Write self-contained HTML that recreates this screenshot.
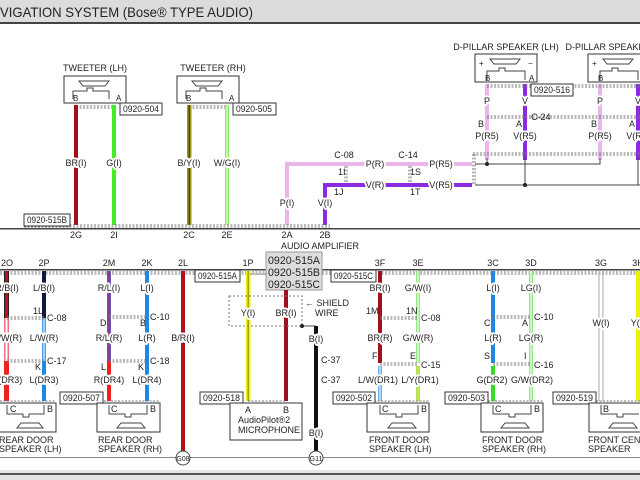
<!DOCTYPE html>
<html><head><meta charset="utf-8"><style>
html,body{margin:0;padding:0;background:#fff}
svg{display:block}
text{font-family:"Liberation Sans",sans-serif;font-size:9px;fill:#222}
.l{paint-order:stroke;stroke:#fff;stroke-width:4px;stroke-linejoin:round}
.box{fill:#fff;stroke:#333;stroke-width:1}
.dash{stroke:#777;stroke-width:1;stroke-dasharray:2 1.5;fill:none}
.thin{stroke:#444;stroke-width:1;fill:none}
</style></head><body>
<svg width="640" height="480" viewBox="0 0 640 480" xmlns="http://www.w3.org/2000/svg">
<rect x="0" y="0" width="640" height="22" fill="#dcdcdc"/>
<text x="0" y="17" style="font-size:14px" textLength="253" lengthAdjust="spacingAndGlyphs" fill="#222">VIGATION SYSTEM (Bose® TYPE AUDIO)</text>
<rect x="0" y="22" width="640" height="2" fill="#444"/>

<rect x="0" y="228" width="640" height="1.5" fill="#444"/>

<text x="95" y="71" text-anchor="middle">TWEETER (LH)</text>
<rect class="box" x="64" y="76" width="62" height="27" stroke-width="1.5"/>
<text x="213" y="71" text-anchor="middle">TWEETER (RH)</text>
<rect class="box" x="177" y="76" width="62" height="27" stroke-width="1.5"/>
<g class="thin">
<path d="M79 81h30l-4 5h-22z"/><path d="M73 99v-8h14v-3h6v3h16v8"/>
<path d="M192 81h30l-4 5h-22z"/><path d="M186 99v-8h14v-3h6v3h16v8"/>
</g>
<text x="73" y="101" style="font-size:8px">B</text><text x="116" y="101" style="font-size:8px">A</text>
<text x="186" y="101" style="font-size:8px">B</text><text x="229" y="101" style="font-size:8px">A</text>
<path class="dash" d="M76 106H114M76 108H114M189 106H227M189 108H227"/>
<rect class="box" x="120" y="103" width="42" height="12"/><text x="123" y="112" textLength="36" lengthAdjust="spacingAndGlyphs">0920-504</text>
<rect class="box" x="233" y="103" width="43" height="12"/><text x="236" y="112" textLength="36" lengthAdjust="spacingAndGlyphs">0920-505</text>

<rect x="74" y="105" width="4" height="120" fill="#a0101a"/>
<rect x="112" y="105" width="4" height="120" fill="#44ee22"/>
<rect x="187" y="105" width="4.5" height="120" fill="#a09a10"/><rect x="188.5" y="105" width="1.5" height="120" fill="#443"/>
<rect x="225" y="105" width="4" height="120" fill="#88ee66"/><rect x="226.5" y="105" width="1" height="120" fill="#fff"/>
<text class="l" x="76" y="166" text-anchor="middle">BR(I)</text>
<text class="l" x="114" y="166" text-anchor="middle">G(I)</text>
<text class="l" x="189" y="166" text-anchor="middle">B/Y(I)</text>
<text class="l" x="227" y="166" text-anchor="middle">W/G(I)</text>

<path d="M287 225V164H472" stroke="#eab6ea" stroke-width="4" fill="none"/>
<path d="M325 225V185H472" stroke="#8a2be2" stroke-width="4" fill="none"/>
<text class="l" x="287" y="206" text-anchor="middle">P(I)</text>
<text class="l" x="325" y="206" text-anchor="middle">V(I)</text>
<text class="l" x="375" y="167" text-anchor="middle">P(R)</text>
<text class="l" x="375" y="188" text-anchor="middle">V(R)</text>
<text class="l" x="441" y="167" text-anchor="middle">P(R5)</text>
<text class="l" x="441" y="188" text-anchor="middle">V(R5)</text>
<text x="344" y="158" text-anchor="middle">C-08</text><text x="408" y="158" text-anchor="middle">C-14</text>
<text x="338" y="175">1I</text><text x="334" y="195">1J</text>
<text x="410" y="175">1S</text><text x="410" y="195">1T</text>
<path class="dash" d="M345 166V183M347 166V183M409 166V183M411 166V183M473 154V185M475 154V185"/>

<path class="dash" d="M24 225H330M24 227H330"/>
<rect class="box" x="24" y="214" width="46" height="12"/><text x="27" y="223" textLength="40" lengthAdjust="spacingAndGlyphs">0920-515B</text>
<text x="76" y="238" text-anchor="middle">2G</text><text x="114" y="238" text-anchor="middle">2I</text>
<text x="189" y="238" text-anchor="middle">2C</text><text x="227" y="238" text-anchor="middle">2E</text>
<text x="287" y="238" text-anchor="middle">2A</text><text x="325" y="238" text-anchor="middle">2B</text>

<text x="506" y="50" text-anchor="middle">D-PILLAR SPEAKER (LH)</text>
<rect class="box" x="475" y="54" width="62" height="28" stroke-width="1.5"/>
<text x="619" y="50" text-anchor="middle">D-PILLAR SPEAKER (RH)</text>
<rect class="box" x="588" y="54" width="62" height="28" stroke-width="1.5"/>
<g class="thin">
<path d="M490 59h30l-4 5h-22z"/><path d="M487 80v-9h12v-3h6v3h20v9"/>
<path d="M603 59h30l-4 5h-22z"/><path d="M600 80v-9h12v-3h6v3h20v9"/>
</g>
<text x="479" y="66" style="font-size:8px">+</text><text x="528" y="66" style="font-size:8px">−</text>
<text x="592" y="66" style="font-size:8px">+</text>
<text x="485" y="81" style="font-size:8px">B</text><text x="529" y="81" style="font-size:8px">A</text>
<text x="598" y="81" style="font-size:8px">B</text>
<rect x="485" y="84" width="4" height="76" fill="#eab6ea"/>
<rect x="523" y="84" width="4" height="76" fill="#8a2be2"/>
<rect x="598" y="84" width="4" height="76" fill="#eab6ea"/>
<rect x="636" y="84" width="4" height="76" fill="#8a2be2"/>
<path class="dash" d="M487 85H640M487 87H640M487 116H640M487 118H640M473 153H640M473 155H640"/>
<rect class="box" x="531" y="84" width="42" height="12"/><text x="534" y="93" textLength="36" lengthAdjust="spacingAndGlyphs">0920-516</text>
<text class="l" x="487" y="104" text-anchor="middle">P</text><text class="l" x="525" y="104" text-anchor="middle">V</text>
<text class="l" x="600" y="104" text-anchor="middle">P</text><text class="l" x="638" y="104" text-anchor="middle">V</text>
<text x="531" y="120">C-24</text>
<text x="478" y="127">B</text><text x="516" y="127">A</text><text x="591" y="127">B</text><text x="629" y="127">A</text>
<text class="l" x="487" y="139" text-anchor="middle">P(R5)</text><text class="l" x="525" y="139" text-anchor="middle">V(R5)</text>
<text class="l" x="600" y="139" text-anchor="middle">P(R5)</text><text class="l" x="638" y="139" text-anchor="middle">V(R5)</text>
<path class="thin" d="M475 164H600V158M487 164V158M475 185H640M525 185V158M638 185V158"/>
<circle cx="487" cy="164" r="2" fill="#222"/><circle cx="525" cy="185" r="2" fill="#222"/>

<text x="320" y="249" text-anchor="middle">AUDIO AMPLIFIER</text>
<rect x="0" y="269" width="640" height="1.5" fill="#444"/>
<path class="dash" d="M0 272H640M0 274H640"/>
<rect x="266" y="252" width="56" height="38" fill="#ddd" stroke="#999"/>
<text x="268" y="264" style="font-size:11px" textLength="52" lengthAdjust="spacingAndGlyphs">0920-515A</text>
<text x="268" y="276" style="font-size:11px" textLength="52" lengthAdjust="spacingAndGlyphs">0920-515B</text>
<text x="268" y="288" style="font-size:11px" textLength="52" lengthAdjust="spacingAndGlyphs">0920-515C</text>
<g text-anchor="middle">
<text x="7" y="266">2O</text><text x="44" y="266">2P</text><text x="109" y="266">2M</text><text x="147" y="266">2K</text><text x="183" y="266">2L</text><text x="248" y="266">1P</text>
<text x="380" y="266">3F</text><text x="418" y="266">3E</text><text x="493" y="266">3C</text><text x="531" y="266">3D</text><text x="601" y="266">3G</text><text x="638" y="266">3H</text>
</g>
<rect class="box" x="195" y="270" width="45" height="12"/><text x="198" y="279" textLength="39" lengthAdjust="spacingAndGlyphs">0920-515A</text>
<rect class="box" x="331" y="270" width="45" height="12"/><text x="334" y="279" textLength="39" lengthAdjust="spacingAndGlyphs">0920-515C</text>

<rect x="4" y="271" width="5" height="47" fill="#222"/><rect x="5" y="271" width="3" height="47" fill="#c0101a"/>
<rect x="4" y="318" width="5" height="43" fill="#f07080"/><rect x="5.5" y="318" width="2" height="43" fill="#fff"/>
<rect x="4" y="361" width="5" height="40" fill="#ee2222"/>
<rect x="42" y="271" width="4" height="47" fill="#111840"/>
<rect x="42" y="318" width="4" height="43" fill="#4aa0f0"/><rect x="43.5" y="318" width="1" height="43" fill="#fff"/>
<rect x="42" y="361" width="4" height="40" fill="#1e88e5"/>
<rect x="107" y="271" width="4" height="90" fill="#6050c0"/><rect x="108.5" y="271" width="1" height="90" fill="#c03040"/>
<rect x="107" y="361" width="4" height="40" fill="#ee2222"/>
<rect x="145" y="271" width="4" height="130" fill="#1e88e5"/>
<rect x="181" y="271" width="4" height="180" fill="#b01018"/>
<rect x="246" y="271" width="4.5" height="130" fill="#eeee10"/><rect x="247.5" y="271" width="1.5" height="130" fill="#a8a800"/>
<rect x="284" y="290" width="4" height="111" fill="#a0101a"/>
<rect x="314" y="326" width="4" height="125" fill="#111"/>
<rect x="378" y="271" width="4" height="92" fill="#a0101a"/>
<rect x="378" y="366" width="4" height="35" fill="#6ab0f0"/><rect x="379.5" y="366" width="1" height="35" fill="#fff"/>
<rect x="416" y="271" width="4" height="92" fill="#99e888"/><rect x="417.5" y="271" width="1" height="92" fill="#fff"/>
<rect x="416" y="366" width="4" height="35" fill="#aadf60"/><rect x="417.5" y="366" width="1" height="35" fill="#eeee30"/>
<rect x="491" y="271" width="4" height="92" fill="#1e88e5"/>
<rect x="491" y="366" width="4" height="35" fill="#33dd22"/>
<rect x="529" y="271" width="4" height="130" fill="#99e888"/><rect x="530.5" y="271" width="1" height="130" fill="#fff"/>
<path d="M599 272V401M603 272V401" stroke="#aaa" stroke-width="1"/>
<rect x="636" y="271" width="4" height="130" fill="#eeee10"/>

<path class="dash" d="M7 317H44M7 319H44M7 360H44M7 362H44M109 316H147M109 318H147M109 360H147M109 362H147M380 317H418M380 319H418M380 363H418M380 365H418M493 316H531M493 318H531M493 363H531M493 365H531"/>
<path class="dash" d="M0 401H56M0 403H56M97 401H160M97 403H160M248 401H286M248 403H286M367 401H429M367 403H429M481 401H543M481 403H543M589 401H640M589 403H640M250 274H266"/>
<rect x="229" y="296" width="73" height="30" fill="none" stroke="#777" stroke-dasharray="2 2"/>
<path class="thin" d="M302 326H316"/><circle cx="302" cy="326" r="2" fill="#222"/>
<text x="305" y="306">← SHIELD</text><text x="315" y="316">WIRE</text>

<g text-anchor="middle">
<text class="l" x="7" y="291">R/B(I)</text><text class="l" x="44" y="291">L/B(I)</text>
<text class="l" x="109" y="291">R/L(I)</text><text class="l" x="147" y="291">L(I)</text>
<text class="l" x="7" y="341">R/W(R)</text><text class="l" x="44" y="341">L/W(R)</text>
<text class="l" x="109" y="341">R/L(R)</text><text class="l" x="147" y="341">L(R)</text>
<text class="l" x="183" y="341">B/R(I)</text>
<text class="l" x="7" y="383">R(DR3)</text><text class="l" x="44" y="383">L(DR3)</text>
<text class="l" x="109" y="383">R(DR4)</text><text class="l" x="147" y="383">L(DR4)</text>
<text class="l" x="248" y="316">Y(I)</text><text class="l" x="286" y="316">BR(I)</text>
<text class="l" x="316" y="342">B(I)</text><text class="l" x="316" y="436">B(I)</text>
<text class="l" x="380" y="291">BR(I)</text><text class="l" x="418" y="291">G/W(I)</text>
<text class="l" x="493" y="291">L(I)</text><text class="l" x="531" y="291">LG(I)</text>
<text class="l" x="380" y="341">BR(R)</text><text class="l" x="418" y="341">G/W(R)</text>
<text class="l" x="493" y="341">L(R)</text><text class="l" x="531" y="341">LG(R)</text>
<text class="l" x="601" y="326">W(I)</text><text class="l" x="638" y="326">Y(I)</text>
<text class="l" x="378" y="383">L/W(DR1)</text><text class="l" x="420" y="383">L/Y(DR1)</text>
<text class="l" x="492" y="383">G(DR2)</text><text class="l" x="532" y="383">G/W(DR2)</text>
</g>
<text x="47" y="321">C-08</text><text x="33" y="314">1L</text>
<text x="47" y="364">C-17</text><text x="35" y="370">K</text>
<text x="150" y="320">C-10</text><text x="100" y="326">D</text><text x="140" y="326">B</text>
<text x="150" y="364">C-18</text><text x="101" y="370">L</text><text x="138" y="370">K</text>
<text x="321" y="363">C-37</text><text x="321" y="383">C-37</text>
<text x="366" y="314">1M</text><text x="406" y="314">1N</text><text x="421" y="321">C-08</text>
<text x="372" y="359">F</text><text x="410" y="359">E</text><text x="421" y="368">C-15</text>
<text x="484" y="326">C</text><text x="522" y="326">A</text><text x="534" y="320">C-10</text>
<text x="484" y="359">S</text><text x="524" y="359">I</text><text x="534" y="368">C-16</text>

<rect class="box" x="60" y="392" width="43" height="12"/><text x="63" y="401" textLength="37" lengthAdjust="spacingAndGlyphs">0920-507</text>
<rect class="box" x="200" y="392" width="43" height="12"/><text x="203" y="401" textLength="37" lengthAdjust="spacingAndGlyphs">0920-518</text>
<rect class="box" x="333" y="392" width="42" height="12"/><text x="336" y="401" textLength="36" lengthAdjust="spacingAndGlyphs">0920-502</text>
<rect class="box" x="445" y="392" width="43" height="12"/><text x="448" y="401" textLength="37" lengthAdjust="spacingAndGlyphs">0920-503</text>
<rect class="box" x="553" y="392" width="43" height="12"/><text x="556" y="401" textLength="37" lengthAdjust="spacingAndGlyphs">0920-519</text>

<rect class="box" x="-2" y="403" width="58" height="29" stroke-width="1.5"/>
<rect class="box" x="97" y="403" width="63" height="29" stroke-width="1.5"/>
<rect class="box" x="367" y="403" width="62" height="29" stroke-width="1.5"/>
<rect class="box" x="481" y="403" width="62" height="29" stroke-width="1.5"/>
<rect class="box" x="589" y="403" width="60" height="29" stroke-width="1.5"/>
<rect class="box" x="230" y="403" width="72" height="37" stroke-width="1.5"/>
<g class="thin">
<path d="M7 405v9h16v3h6v-3h15v-9"/><path d="M17 428h26l-4-5h-18z"/>
<path d="M109 405v9h16v3h6v-3h16v-9"/><path d="M117 428h28l-4-5h-20z"/>
<path d="M380 405v9h16v3h6v-3h16v-9"/><path d="M388 428h28l-4-5h-20z"/>
<path d="M493 405v9h16v3h6v-3h16v-9"/><path d="M501 428h28l-4-5h-20z"/>
<path d="M601 405v9h16v3h6v-3h16"/><path d="M609 428h28l-4-5h-20z"/>
</g>
<g style="font-size:8px">
<text x="10" y="412">C</text><text x="47" y="412">B</text><text x="111" y="412">C</text><text x="150" y="412">B</text>
<text x="382" y="412">C</text><text x="421" y="412">B</text><text x="495" y="412">C</text><text x="534" y="412">B</text><text x="603" y="412">B</text>
<text x="245" y="413">A</text><text x="283" y="413">B</text>
</g>
<text x="238" y="423">AudioPilot®2</text><text x="238" y="433">MICROPHONE</text>
<text x="-1" y="443">REAR DOOR</text><text x="-1" y="452">SPEAKER (LH)</text>
<text x="98" y="443">REAR DOOR</text><text x="98" y="452">SPEAKER (RH)</text>
<text x="369" y="443">FRONT DOOR</text><text x="369" y="452">SPEAKER (LH)</text>
<text x="482" y="443">FRONT DOOR</text><text x="482" y="452">SPEAKER (RH)</text>
<text x="588" y="443">FRONT CENTER</text><text x="588" y="452">SPEAKER</text>

<rect x="0" y="457" width="640" height="1" fill="#888"/>
<circle cx="183" cy="458" r="7" fill="#fff" stroke="#444"/><text x="183" y="461" text-anchor="middle" style="font-size:7px">G08</text>
<circle cx="316" cy="458" r="7" fill="#fff" stroke="#444"/><text x="316" y="461" text-anchor="middle" style="font-size:7px">G11</text>
<rect x="0" y="470" width="640" height="10" fill="#e4e4e4"/>
<rect x="0" y="473" width="640" height="2" fill="#555"/>
</svg>
</body></html>
